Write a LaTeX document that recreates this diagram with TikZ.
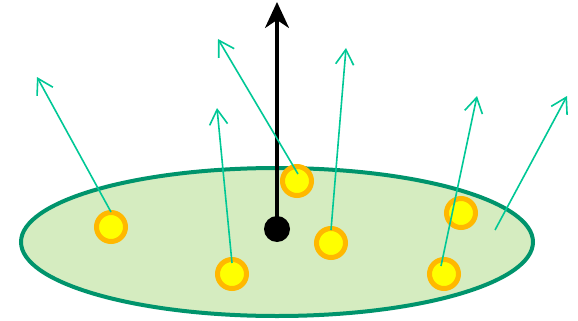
\documentclass[tikz,border=0pt]{standalone}
\usepackage{xcolor}
\usepackage{tikz}
\usetikzlibrary{arrows.meta,calc}
\definecolor{rimgreen}{RGB}{0,148,108}
\definecolor{discfill}{RGB}{213,236,192}
\definecolor{fluxteal}{RGB}{0,200,150}
\definecolor{ringorange}{RGB}{255,184,0}
\definecolor{coreyellow}{RGB}{255,255,0}

\tikzset{
  charge/.style={circle, draw=ringorange, line width=5pt, fill=coreyellow,
    minimum size=29pt, inner sep=0pt},
  flux/.style={fluxteal, line width=1.6pt, -{Straight Barb[length=15pt,width=18pt]}},
}

\begin{document}
\begin{tikzpicture}[x=1pt,y=-1pt]
  \useasboundingbox (0,0) rectangle (578,321);

  % Disc
  \draw[rimgreen, line width=4pt, fill=discfill] (277,242) ellipse (256 and 74);

  % Normal vector
  \node[circle, fill=black, minimum size=26pt, inner sep=0pt] (origin) at (277,229) {};
  \coordinate (normaltip) at (277,2);
  \draw[line width=3.2pt, -{Stealth[length=26pt,width=24pt,inset=8pt]}]
    (origin.center) -- (normaltip);

  % Charges on the disc
  \node[charge] (q1) at (111,227) {};
  \node[charge] (q2) at (232,274) {};
  \node[charge] (q3) at (297,181) {};
  \node[charge] (q4) at (331,243) {};
  \node[charge] (q5) at (461,213) {};
  \node[charge] (q6) at (444,274) {};
  \coordinate (q7) at (495,230);

  % Field lines leaving the surface
  \coordinate (t1) at (37,77);
  \coordinate (t2) at (217,108);
  \coordinate (t3) at (218,39);
  \coordinate (t4) at (346,48);
  \coordinate (t5) at (477,96);
  \coordinate (t6) at (567,96);
  \draw[flux] ($(q1.center)+(0,-15)$) -- (t1);
  \draw[flux] ($(q2.center)+(0,-11)$) -- (t2);
  \draw[flux] ($(q3.center)+(1,-7)$) -- (t3);
  \draw[flux] ($(q4.center)+(0,-13)$) -- (t4);
  \draw[flux] ($(q6.center)+(-3,-8)$) -- (t5);
  \draw[flux] (q7) -- (t6);
\end{tikzpicture}
\end{document}
